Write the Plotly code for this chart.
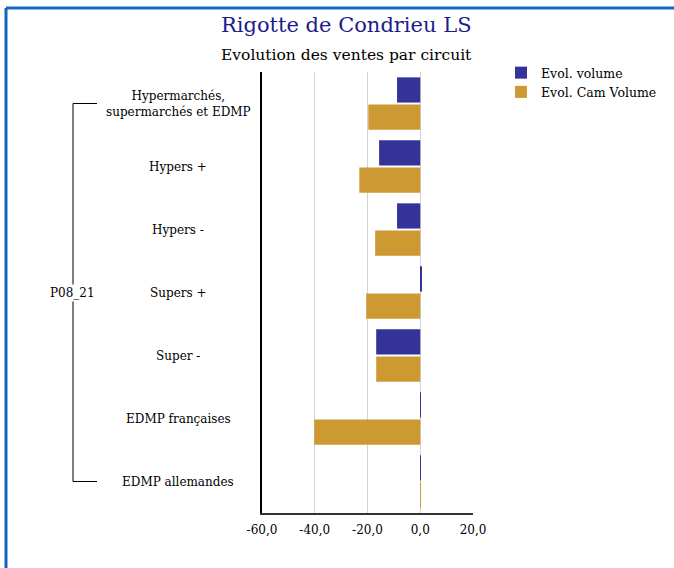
import plotly.graph_objects as go

categories = ["Hypermarchés,<br>supermarchés et EDMP", "Hypers +", "Hypers -", "Supers +",
              "Super -", "EDMP françaises", "EDMP allemandes"]
group_label = "P08_21"
evol_volume = [-8.8, -15.6, -8.8, 0.3, -16.7, 0.2, 0.2]
evol_cam_volume = [-19.7, -23.1, -17.1, -20.5, -16.7, -40.2, 0.2]
tick_vals = [-60, -40, -20, 0, 20]
tick_labels = ["-60,0", "-40,0", "-20,0", "0,0", "20,0"]
series_names = ["Evol. volume", "Evol. Cam Volume"]
colors = ["#333399", "#CC9933"]

FONT = "DejaVu Serif"
W, H = 674, 568
L, R, T, B = 262, 473, 72, 513

def px(xp):
    return (xp - L) / (R - L)

def py(yp):
    return (B - yp) / (B - T)

fig = go.Figure()
fig.add_trace(go.Bar(y=categories, x=evol_volume, orientation="h", name=series_names[0],
                     marker=dict(color=colors[0], line=dict(width=0))))
fig.add_trace(go.Bar(y=categories, x=evol_cam_volume, orientation="h", name=series_names[1],
                     marker=dict(color=colors[1], line=dict(width=0))))

annotations = []
for c in categories:
    annotations.append(dict(x=px(178), xref="paper", y=c, yref="y", text=c, showarrow=False,
                            xanchor="center", yanchor="middle", align="center",
                            font=dict(family=FONT, size=12, color="black")))
annotations.append(dict(x=px(72), xref="paper", y=categories[3], yref="y", text=group_label,
                        showarrow=False, xanchor="center", yanchor="middle", bgcolor="white",
                        font=dict(family=FONT, size=12, color="black")))
annotations.append(dict(x=px(346), xref="paper", y=py(25), yref="paper", text="Rigotte de Condrieu LS",
                        showarrow=False, xanchor="center", yanchor="middle",
                        font=dict(family=FONT, size=21, color="#1c1c8c")))
annotations.append(dict(x=px(346), xref="paper", y=py(55), yref="paper",
                        text="Evolution des ventes par circuit",
                        showarrow=False, xanchor="center", yanchor="middle",
                        font=dict(family=FONT, size=15.5, color="black")))

shapes = [
    dict(type="line", xref="paper", yref="y", x0=px(73), x1=px(73), y0=categories[0], y1=categories[-1],
         line=dict(color="black", width=1), layer="below"),
    dict(type="line", xref="paper", yref="y", x0=px(73), x1=px(97), y0=categories[0], y1=categories[0],
         line=dict(color="black", width=1)),
    dict(type="line", xref="paper", yref="y", x0=px(73), x1=px(97), y0=categories[-1], y1=categories[-1],
         line=dict(color="black", width=1)),
    dict(type="line", xref="paper", yref="paper", x0=px(6), x1=px(W + 5), y0=py(8), y1=py(8),
         line=dict(color="#1565C0", width=3)),
    dict(type="line", xref="paper", yref="paper", x0=px(6), x1=px(6), y0=py(8), y1=py(H + 5),
         line=dict(color="#1565C0", width=3)),
]

fig.update_layout(
    width=W, height=H,
    margin=dict(l=L, r=W - R, t=T, b=H - B, pad=0, autoexpand=False),
    paper_bgcolor="white", plot_bgcolor="white",
    barmode="group", bargap=0.14, bargroupgap=0.07,
    font=dict(family=FONT, size=12, color="black"),
    showlegend=True,
    legend=dict(xref="container", yref="container", x=501 / W, y=1 - 58 / H,
                xanchor="left", yanchor="top", font=dict(family=FONT, size=12.5),
                bgcolor="rgba(0,0,0,0)", tracegroupgap=0, itemsizing="constant"),
    annotations=annotations,
    shapes=shapes,
)
fig.update_xaxes(range=[-60, 20], tickvals=tick_vals, ticktext=tick_labels, showgrid=True,
                 gridcolor="#d3d3d3", gridwidth=1, zeroline=False, showline=True,
                 linecolor="#333333", linewidth=2, ticks="", ticklen=0, ticklabelstandoff=5,
                 tickfont=dict(family=FONT, size=12, color="black"), automargin=False)
fig.update_yaxes(autorange="reversed", showticklabels=False, showgrid=False, zeroline=False,
                 showline=True, linecolor="black", linewidth=1.5, ticks="", automargin=False)

fig.write_html("out.html", config={"displayModeBar": False},
               post_script="document.body.style.margin='0';")
